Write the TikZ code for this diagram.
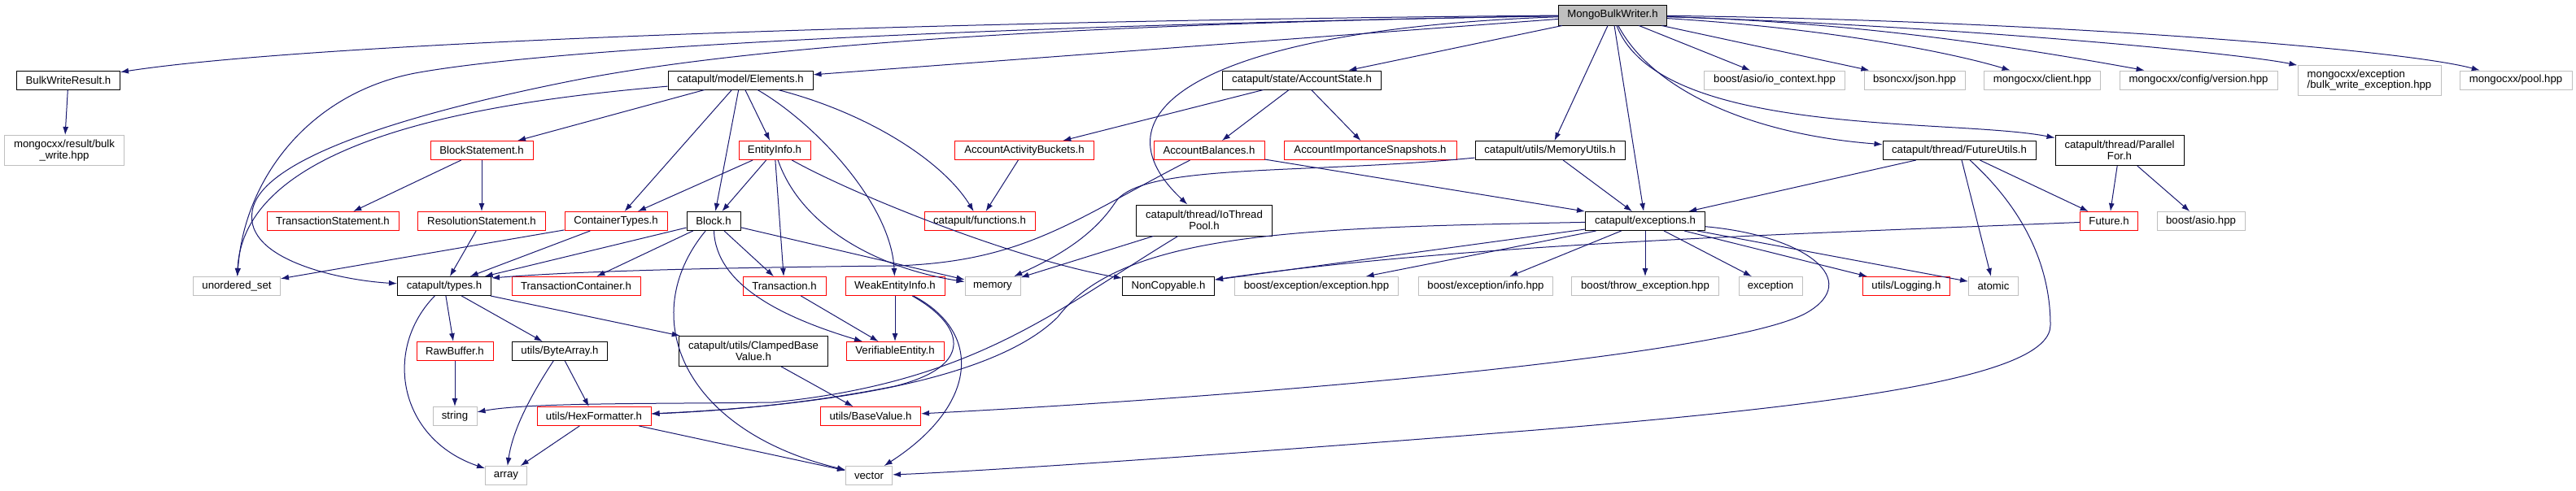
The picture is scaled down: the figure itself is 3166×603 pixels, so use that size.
\documentclass[tikz,border=0pt]{standalone}
\usepackage{fontspec}
\setmainfont{Liberation Sans}
\usepackage{xcolor}
\usepackage{tikz}
\usetikzlibrary{arrows.meta}
\definecolor{edgeNavy}{HTML}{191970}
\definecolor{extGreyLine}{HTML}{BFBFBF}
\definecolor{truncRedLine}{HTML}{FF0000}
\definecolor{rootGrey}{HTML}{BFBFBF}
\tikzset{
  hdrbox/.style={rectangle, draw=black, fill=white, line width=1pt, align=center, font=\fontsize{13.2pt}{13.6pt}\selectfont, minimum height=23pt, inner xsep=3pt, inner ysep=2pt},
  truncbox/.style={hdrbox, draw=truncRedLine},
  extbox/.style={hdrbox, draw=extGreyLine},
  rootbox/.style={hdrbox, fill=rootGrey, minimum height=25pt},
  % --- include edges ---
  incarrow/.style={-{Latex[length=10pt,width=7pt]}, line width=1pt, draw=edgeNavy},
}
\begin{document}
\begin{tikzpicture}[x=1pt,y=1pt]
  \path[use as bounding box, fill=white] (0,0) rectangle (3166,-603);

  \node[rootbox, minimum width=133pt] (root) at (1982,-18.5) {MongoBulkWriter.h};

  \node[hdrbox, minimum width=127pt] (bwres) at (84,-98.5) {BulkWriteResult.h};
  \node[hdrbox, minimum width=178pt] (elems) at (910,-98.5) {catapult/model/Elements.h};
  \node[hdrbox, minimum width=195pt] (accst) at (1600,-98.5) {catapult/state/AccountState.h};
  \node[extbox, minimum width=173pt] (ioctx) at (2181,-98.5) {boost/asio/io\_context.hpp};
  \node[extbox, minimum width=124pt] (bsjson) at (2353,-98.5) {bsoncxx/json.hpp};
  \node[extbox, minimum width=143pt] (mclient) at (2510,-98.5) {mongocxx/client.hpp};
  \node[extbox, minimum width=194pt] (mversion) at (2702,-98.5) {mongocxx/config/version.hpp};
  \node[extbox, minimum width=176pt, minimum height=37pt, align=left] (mbwexc) at (2912,-98.5) {mongocxx/exception\\/bulk\_write\_exception.hpp};
  \node[extbox, minimum width=138pt] (mpool) at (3092,-98.5) {mongocxx/pool.hpp};

  \node[extbox, minimum width=147pt, minimum height=37pt] (mresult) at (79,-185) {mongocxx/result/bulk\\\_write.hpp};
  \node[truncbox, minimum width=126pt] (blkstm) at (592,-185) {BlockStatement.h};
  \node[truncbox, minimum width=88pt] (entinfo) at (952,-185) {EntityInfo.h};
  \node[truncbox, minimum width=171pt] (actbuck) at (1259,-185) {AccountActivityBuckets.h};
  \node[truncbox, minimum width=136pt] (accbal) at (1486,-185) {AccountBalances.h};
  \node[truncbox, minimum width=212pt] (impsnap) at (1684,-185) {AccountImportanceSnapshots.h};
  \node[hdrbox, minimum width=184pt] (memutil) at (1905,-185) {catapult/utils/MemoryUtils.h};
  \node[hdrbox, minimum width=188pt] (fututil) at (2408,-185) {catapult/thread/FutureUtils.h};
  \node[hdrbox, minimum width=158pt, minimum height=37pt] (parfor) at (2605,-185) {catapult/thread/Parallel\\For.h};

  \node[truncbox, minimum width=162pt] (txstm) at (409,-272) {TransactionStatement.h};
  \node[truncbox, minimum width=157pt] (resstm) at (592,-272) {ResolutionStatement.h};
  \node[truncbox, minimum width=126pt] (conttyp) at (757,-272) {ContainerTypes.h};
  \node[hdrbox, minimum width=66pt] (block) at (877,-272) {Block.h};
  \node[truncbox, minimum width=136pt] (funcs) at (1204,-272) {catapult/functions.h};
  \node[hdrbox, minimum width=167pt, minimum height=38pt] (iopool) at (1480,-271) {catapult/thread/IoThread\\Pool.h};
  \node[hdrbox, minimum width=147pt] (excs) at (2022,-272) {catapult/exceptions.h};
  \node[truncbox, minimum width=71pt] (future) at (2592,-272) {Future.h};
  \node[extbox, minimum width=108pt] (basio) at (2705,-272) {boost/asio.hpp};

  \node[extbox, minimum width=107pt] (uset) at (291,-352) {unordered\_set};
  \node[hdrbox, minimum width=115pt] (types) at (546,-352) {catapult/types.h};
  \node[truncbox, minimum width=158pt] (txcont) at (708,-352) {TransactionContainer.h};
  \node[truncbox, minimum width=102pt] (trans) at (964,-352) {Transaction.h};
  \node[truncbox, minimum width=122pt] (weakent) at (1100,-352) {WeakEntityInfo.h};
  \node[extbox, minimum width=68pt] (memory) at (1220,-352) {memory};
  \node[hdrbox, minimum width=113pt] (noncopy) at (1436,-352) {NonCopyable.h};
  \node[extbox, minimum width=201pt] (bexcept) at (1618,-352) {boost/exception/exception.hpp};
  \node[extbox, minimum width=165pt] (binfo) at (1826,-352) {boost/exception/info.hpp};
  \node[extbox, minimum width=181pt] (bthrow) at (2022,-352) {boost/throw\_exception.hpp};
  \node[extbox, minimum width=78pt] (except) at (2176,-352) {exception};
  \node[truncbox, minimum width=107pt] (logging) at (2343,-352) {utils/Logging.h};
  \node[extbox, minimum width=61pt] (atomic) at (2450,-352) {atomic};

  \node[truncbox, minimum width=94pt] (rawbuf) at (559,-432) {RawBuffer.h};
  \node[hdrbox, minimum width=117pt] (bytearr) at (688,-432) {utils/ByteArray.h};
  \node[hdrbox, minimum width=183pt, minimum height=37pt] (clamped) at (926,-432) {catapult/utils/ClampedBase\\Value.h};
  \node[truncbox, minimum width=120pt] (verent) at (1100,-432) {VerifiableEntity.h};

  \node[extbox, minimum width=54pt] (string) at (559,-512) {string};
  \node[truncbox, minimum width=140pt] (hexfmt) at (730,-512) {utils/HexFormatter.h};
  \node[truncbox, minimum width=123pt] (baseval) at (1070,-512) {utils/BaseValue.h};

  \node[extbox, minimum width=51pt] (array) at (622,-585) {array};
  \node[extbox, minimum width=57pt] (vector) at (1068,-585) {vector};

  % root includes
  \draw[incarrow] (root) .. controls (1200,-25) and (400,-50) .. (bwres);
  \draw[incarrow] (root) -- (elems);
  \draw[incarrow] (root) -- (accst);
  \draw[incarrow] (root) -- (memutil);
  \draw[incarrow] (root) -- (excs);
  \draw[incarrow] (root) -- (ioctx);
  \draw[incarrow] (root) -- (bsjson);
  \draw[incarrow] (root) .. controls (2250,-35) and (2400,-65) .. (mclient);
  \draw[incarrow] (root) .. controls (2300,-28) and (2500,-62) .. (mversion);
  \draw[incarrow] (root) .. controls (2400,-32) and (2750,-65) .. (mbwexc);
  \draw[incarrow] (root) .. controls (2500,-25) and (2950,-60) .. (mpool);
  \draw[incarrow] (root) .. controls (1500,-35) and (1330,-130) .. (iopool);
  \draw[incarrow] (root) .. controls (2030,-110) and (2150,-165) .. (fututil);
  \draw[incarrow] (root) .. controls (2040,-170) and (2400,-145) .. (parfor);
  \draw[incarrow] (root) .. controls (1300,-30) and (700,-55) .. (510,-90) .. controls (380,-115) and (300,-220) .. (uset);
  \draw[incarrow] (root) .. controls (1400,-28) and (950,-50) .. (700,-100) .. controls (530,-134) and (320,-190) .. (310,-260) .. controls (300,-320) and (420,-345) .. (types);

  \draw[incarrow] (bwres) -- (mresult);

  % model
  \draw[incarrow] (elems) .. controls (600,-125) and (300,-170) .. (uset);
  \draw[incarrow] (elems) -- (blkstm);
  \draw[incarrow] (elems) -- (conttyp);
  \draw[incarrow] (elems) -- (block);
  \draw[incarrow] (elems) -- (entinfo);
  \draw[incarrow] (elems) .. controls (1000,-150) and (1095,-250) .. (weakent);
  \draw[incarrow] (elems) .. controls (1070,-140) and (1160,-200) .. (funcs);
  \draw[incarrow] (blkstm) -- (txstm);
  \draw[incarrow] (blkstm) -- (resstm);
  \draw[incarrow] (resstm) -- (types);
  \draw[incarrow] (conttyp) -- (uset);
  \draw[incarrow] (conttyp) -- (types);
  \draw[incarrow] (entinfo) -- (conttyp);
  \draw[incarrow] (entinfo) -- (block);
  \draw[incarrow] (entinfo) -- (trans);
  \draw[incarrow] (entinfo) .. controls (985,-280) and (1080,-330) .. (memory);
  \draw[incarrow] (entinfo) .. controls (1050,-240) and (1250,-320) .. (noncopy);
  \draw[incarrow] (block) -- (types);
  \draw[incarrow] (block) -- (txcont);
  \draw[incarrow] (block) -- (trans);
  \draw[incarrow] (block) -- (memory);
  \draw[incarrow] (block) .. controls (880,-350) and (960,-390) .. (verent);
  \draw[incarrow] (block) .. controls (780,-390) and (840,-530) .. (vector);
  \draw[incarrow] (trans) -- (verent);
  \draw[incarrow] (weakent) -- (verent);
  \draw[incarrow] (weakent) .. controls (1185,-400) and (1200,-450) .. (1100,-475) .. controls (1000,-495) and (900,-505) .. (hexfmt);
  \draw[incarrow] (weakent) .. controls (1210,-410) and (1200,-500) .. (vector);

  % state
  \draw[incarrow] (accst) -- (actbuck);
  \draw[incarrow] (accst) -- (accbal);
  \draw[incarrow] (accst) -- (impsnap);
  \draw[incarrow] (actbuck) -- (funcs);
  \draw[incarrow] (accbal) .. controls (1320,-270) and (1260,-322) .. (1100,-327) .. controls (800,-330) and (680,-336) .. ([yshift=-2pt]types.north east);
  \draw[incarrow] (accbal) -- (excs);

  % utils and thread
  \draw[incarrow] (memutil) .. controls (1600,-215) and (1400,-200) .. (1370,-250) .. controls (1340,-295) and (1290,-320) .. (memory);
  \draw[incarrow] (memutil) -- (excs);
  \draw[incarrow] (iopool) -- (memory);
  \draw[incarrow] (iopool) .. controls (1300,-380) and (1200,-470) .. (950,-495) .. controls (800,-497) and (650,-495) .. (string);
  \draw[incarrow] (fututil) -- (excs);
  \draw[incarrow] (fututil) -- (future);
  \draw[incarrow] (fututil) -- (atomic);
  \draw[incarrow] (fututil) .. controls (2490,-260) and (2520,-330) .. (2520,-400) .. controls (2520,-460) and (2300,-495) .. (1900,-528) .. controls (1500,-560) and (1200,-580) .. (vector);
  \draw[incarrow] (parfor) -- (future);
  \draw[incarrow] (parfor) -- (basio);
  \draw[incarrow] (future) .. controls (2200,-288) and (1800,-300) .. (noncopy);

  % exceptions
  \draw[incarrow] (excs) -- (noncopy);
  \draw[incarrow] (excs) -- (bexcept);
  \draw[incarrow] (excs) -- (binfo);
  \draw[incarrow] (excs) -- (bthrow);
  \draw[incarrow] (excs) -- (except);
  \draw[incarrow] (excs) -- (logging);
  \draw[incarrow] (excs) -- (atomic);
  \draw[incarrow] (excs) .. controls (1600,-280) and (1380,-285) .. (1300,-390) .. controls (1220,-470) and (1000,-500) .. (hexfmt);
  \draw[incarrow] (excs) .. controls (2220,-290) and (2290,-345) .. (2220,-385) .. controls (2120,-440) and (1500,-490) .. (baseval);

  % types
  \draw[incarrow] (types) .. controls (470,-430) and (490,-540) .. (array);
  \draw[incarrow] (types) -- (rawbuf);
  \draw[incarrow] (types) -- (bytearr);
  \draw[incarrow] (types) -- (clamped);
  \draw[incarrow] (rawbuf) -- (string);
  \draw[incarrow] (bytearr) .. controls (650,-490) and (630,-530) .. (array);
  \draw[incarrow] (bytearr) -- (hexfmt);
  \draw[incarrow] (hexfmt) -- (array);
  \draw[incarrow] (hexfmt) -- (vector);
  \draw[incarrow] (clamped) -- (baseval);
\end{tikzpicture}
\end{document}
